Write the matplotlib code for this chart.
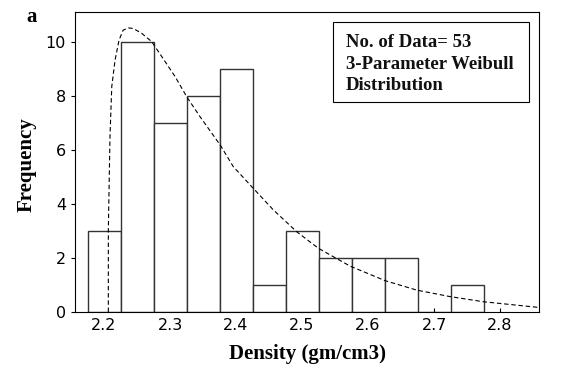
import matplotlib
matplotlib.use("Agg")
import matplotlib.pyplot as plt
from matplotlib.patches import Rectangle

# Histogram (bin midpoints and counts)
bin_mids = [2.20, 2.25, 2.30, 2.35, 2.40, 2.45, 2.50, 2.55, 2.60, 2.65, 2.70, 2.75]
counts = [3, 10, 7, 8, 9, 1, 3, 2, 2, 2, 0, 1]
bin_width = 0.05

# Fitted 3-parameter Weibull curve
curve_x = [2.2065, 2.2065, 2.2090, 2.2117, 2.2167, 2.2227, 2.2290, 2.2369, 2.2444,
           2.2570, 2.2723, 2.2874, 2.3076, 2.3253, 2.3455, 2.3758, 2.3959, 2.4238,
           2.4565, 2.4920, 2.5247, 2.5727, 2.6258, 2.6738, 2.7242, 2.7747, 2.8580]
curve_y = [0.0, 3.04, 6.5, 8.35, 9.33, 10.07, 10.44, 10.52, 10.5,
           10.32, 10.01, 9.46, 8.72, 7.97, 7.23, 6.19, 5.38, 4.64,
           3.78, 2.97, 2.36, 1.70, 1.16, 0.81, 0.57, 0.38, 0.17]

x_ticks = [2.2, 2.3, 2.4, 2.5, 2.6, 2.7, 2.8]
y_ticks = [0, 2, 4, 6, 8, 10]

serif = ["Liberation Serif", "DejaVu Serif"]

fig = plt.figure(figsize=(5.61, 3.67), dpi=100)
ax = fig.add_axes([0.1337, 0.1499, 0.8271, 0.8174])

ax.bar(bin_mids, counts, width=bin_width, color="white", edgecolor="#333333", linewidth=1.0, zorder=2)
ax.plot(curve_x, curve_y, color="black", linestyle=(0, (4, 2.5)), linewidth=0.8, zorder=3)

ax.set_xlim(2.156, 2.859)
ax.set_ylim(0, 11.11)
ax.set_xticks(x_ticks)
ax.set_xticklabels([f"{t:.1f}" for t in x_ticks])
ax.set_yticks(y_ticks)
ax.tick_params(axis="x", direction="in", length=3, labelsize=11.5, pad=4)
ax.tick_params(axis="y", direction="out", length=3, labelsize=11.5)
for s in ax.spines.values():
    s.set_linewidth(0.8)

ax.set_xlabel("Density (gm/cm3)", fontsize=15, fontweight="bold", family=serif, labelpad=8)
ax.set_ylabel("Frequency", fontsize=15, fontweight="bold", family=serif)
ax.yaxis.set_label_coords(-0.082, 0.49)

fig.text(0.057, 0.953, "a", fontsize=15, fontweight="bold", family=serif, ha="center", va="center")

# legend-like note box
ax.add_patch(Rectangle((0.556, 0.70), 0.422, 0.267, transform=ax.transAxes,
                       facecolor="white", edgecolor="black", linewidth=0.8, zorder=5))
ax.text(0.584, 0.925, "No. of Data= 53\n3-Parameter Weibull\nDistribution",
        transform=ax.transAxes, fontsize=13.5, fontweight="bold", family=serif,
        va="top", ha="left", linespacing=1.32, color="#111111", zorder=6)

fig.savefig("out.png", dpi=100)
